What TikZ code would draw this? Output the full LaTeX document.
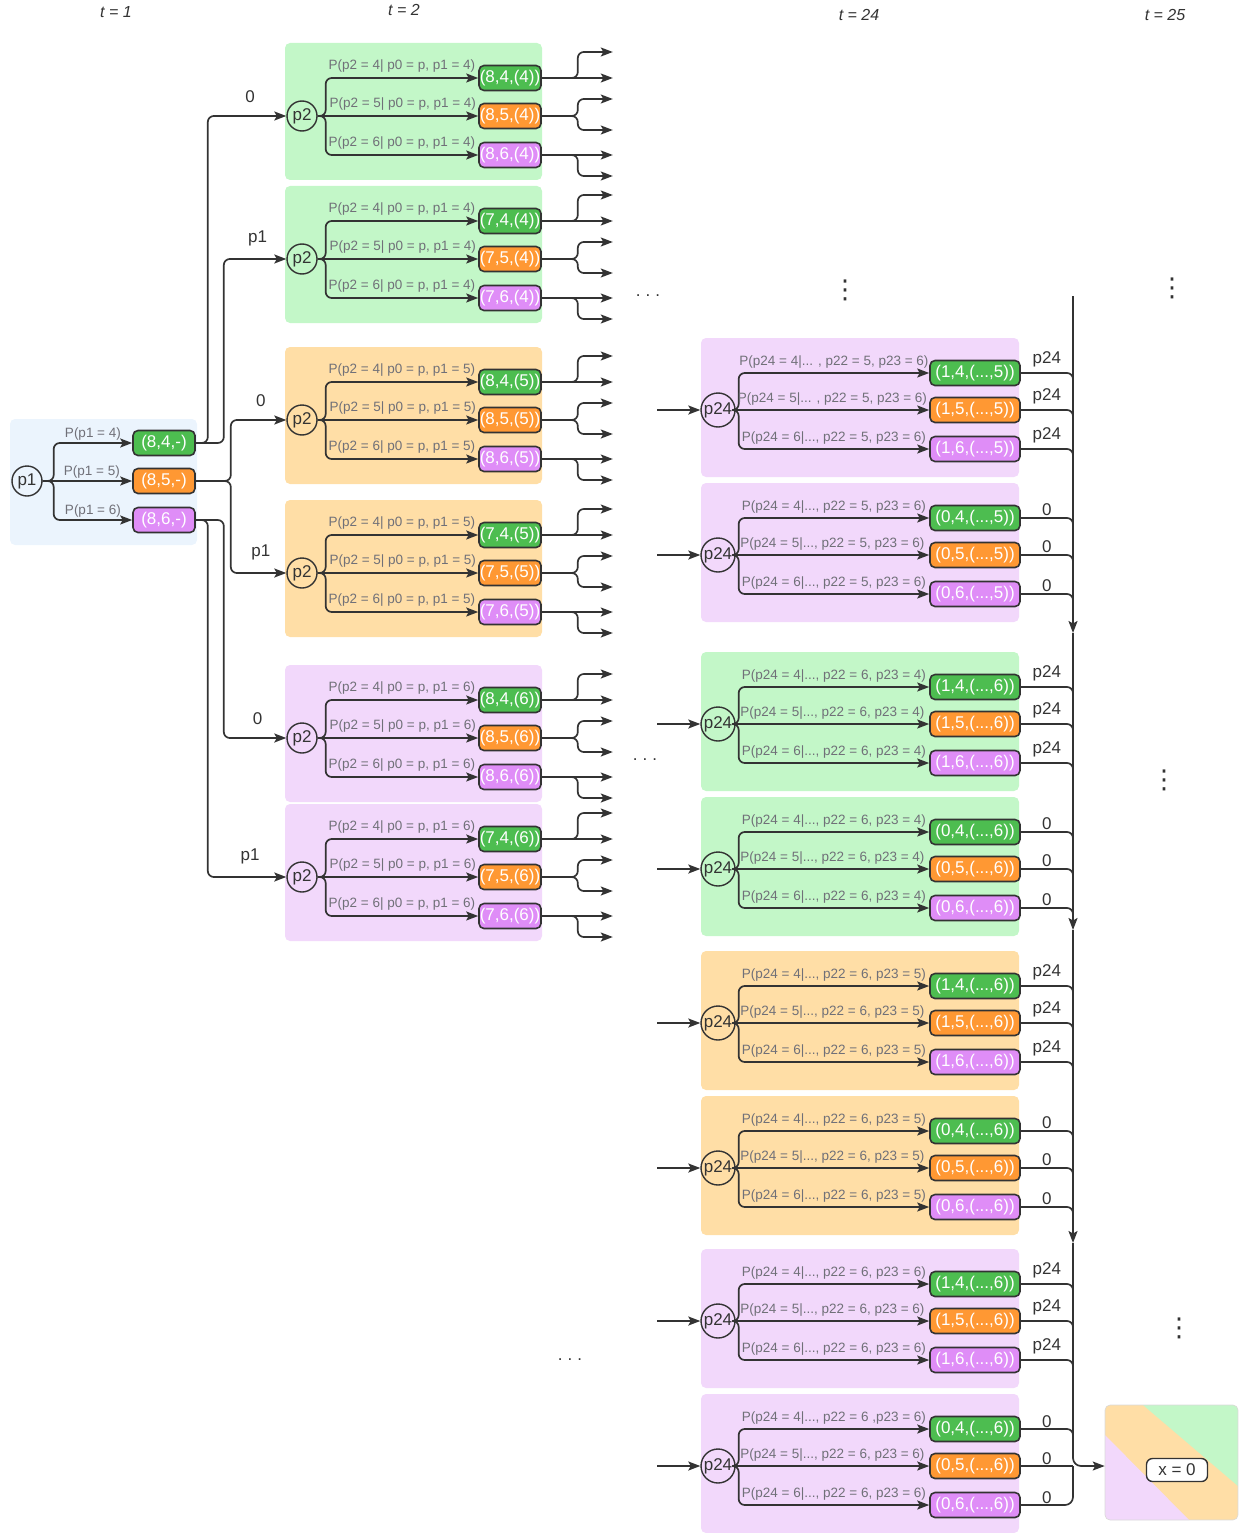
\documentclass[tikz,border=0pt]{standalone}
\usepackage{fontspec}
\setmainfont{Liberation Sans}
\newfontfamily\symfont{DejaVu Sans}
\usetikzlibrary{arrows.meta,calc,positioning}
\definecolor{ink}{HTML}{333333}
\definecolor{grey}{HTML}{707078}
\definecolor{okgreen}{HTML}{4DBD50}
\definecolor{okorange}{HTML}{FF9833}
\definecolor{okpurple}{HTML}{DF8DF7}
\definecolor{bggreen}{HTML}{C3F7C8}
\definecolor{bgorange}{HTML}{FFDEA6}
\definecolor{bgpurple}{HTML}{F2D8FB}
\definecolor{bgblue}{HTML}{EBF4FD}
\newcommand\fs[1]{\fontsize{#1}{#1}\selectfont}
\tikzset{fig/.style={x=1pt,y=-1pt,line join=round},
  area/.style={fill=#1,rounded corners=5pt},
  state/.style={circle,draw=ink,line width=1.4pt,minimum size=30pt,inner sep=0pt,text=ink,font=\fs{17}},
  outbox/.style={fill=#1,draw=ink,line width=1.6pt,rounded corners=5pt,text=white,minimum width=62pt,minimum height=25pt,inner sep=0pt,font=\fs{17}},
  prob/.style={text=grey,inner sep=0pt,font=\fs{13.5}},
  tag/.style={text=ink,inner sep=0pt,font=\fs{17}},
  wire/.style={draw=ink,line width=1.7pt,rounded corners=6pt},
  flow/.style={wire,-{Stealth[length=12pt,width=9pt,inset=2.5pt]}}}

\begin{document}
\begin{tikzpicture}[fig]
\useasboundingbox (0,0) rectangle (1241,1533);
% time labels
\foreach \x/\y/\tt in {116/12/1,404/10/2,859/15/24,1165/15/25}
  \node[tag,font=\fs{16}\itshape] (t\tt) at (\x,\y) {t = \tt};

% t = 1
\fill[area=bgblue] (10,419) rectangle (197,545);
\node[state] (a) at (27,481) {p1};
\foreach \j/\dy/\col in {4/-38/okgreen,5/0/okorange,6/39/okpurple}{
  \node[outbox=\col] (a\j) at (164,481+\dy) {(8,\j,-)};
  \ifnum\j=5 \draw[flow] (a.east) -- node[prob,pos=0.55,above=2pt]{P(p1 = \j)} (a\j.west);
  \else \draw[flow] (a.east) -- ++(11,0) |- node[prob,pos=0.75,above=2pt]{P(p1 = \j)} (a\j.west);\fi}

% t = 2
\foreach \i/\cy/\bg/\n/\v in {1/116/bggreen/8/4,2/259/bggreen/7/4,3/420/bgorange/8/5,4/573/bgorange/7/5,5/738/bgpurple/8/6,6/877/bgpurple/7/6}{
  \fill[area=\bg] (285,\cy-73) rectangle (542,\cy+64);
  \node[state] (b\i) at (302,\cy) {p2};
  \foreach \j/\dy/\col/\ua/\ub in {4/-38/okgreen/-26/0,5/0/okorange/-17/14,6/39/okpurple/0/21}{
    \node[outbox=\col] (b\i-\j) at (510,\cy+\dy) {(\n,\j,(\v))};
    \def\lbl{P(p2 = \j| p0 = p, p1 = \v)}
    \ifnum\j=5 \draw[flow] (b\i.east) -- node[prob,pos=0.53,above=5pt]{\lbl} (b\i-\j.west);
    \else \draw[flow] (b\i.east) -- ++(8,0) |- node[prob,pos=0.75,above=5pt]{\lbl} (b\i-\j.west);\fi
    \foreach \o/\q in {u/\ua,d/\ub}{
      \coordinate (f\i-\j-\o) at ($(b\i-\j.east)+(71,\q)$);
      \ifnum\q=0 \draw[flow] (b\i-\j.east) -- (f\i-\j-\o);
      \else \draw[flow] (b\i-\j.east) -- ++(36,0) |- (f\i-\j-\o);\fi}}}

% t = 1 -> t = 2
\foreach \s/\dx/\k/\lab in {4/12/1/0,4/28/2/p1,5/35/3/0,5/35/4/p1,6/28/5/0,6/12/6/p1}
  \draw[flow] (a\s.east) -- ++(\dx,0) |- node[tag,pos=0.77,above=12pt]{\lab} (b\k.west);

% t = 24
\coordinate (trunk) at (1073,296);
\foreach \i/\cy/\bg/\w/\pa/\pb/\z/\tg/\off in {1/410/bgpurple/1/5/6/5/p24/5pt,2/555/bgpurple/0/5/6/5/0/1pt,3/724/bggreen/1/6/4/6/p24/5pt,4/869/bggreen/0/6/4/6/0/1pt,5/1023/bgorange/1/6/5/6/p24/5pt,6/1168/bgorange/0/6/5/6/0/1pt,7/1321/bgpurple/1/6/6/6/p24/5pt,8/1466/bgpurple/0/6/6/6/0/1pt}{
  \fill[area=\bg] (701,\cy-72) rectangle (1019,\cy+67);
  \node[state,minimum size=34pt] (c\i) at (718,\cy) {p24};
  \coordinate (e\i) at (657,\cy);
  \draw[flow] (e\i) -- (c\i.west);
  \foreach \j/\dy/\col in {4/-37/okgreen,5/0/okorange,6/39/okpurple}{
    \node[outbox=\col,minimum width=90pt] (c\i-\j) at (975,\cy+\dy) {(\w,\j,(...,\z))};
    \def\lbl{P(p24 = \j|...\ifnum\i\j<16 \space\fi, p22 = \pa\ifnum\i\j=84 \space,p23\else, p23\fi{} = \pb)}
    \ifnum\j=5 \draw[flow] (c\i.east) -- node[prob,pos=0.5,above=4pt]{\lbl} (c\i-\j.west);
    \else \draw[flow] (c\i.east) -- ++(3,0) |- node[prob,pos=0.75,above=4pt]{\lbl} (c\i-\j.west);\fi
    \ifnum\i\j<85
      \draw[wire] (c\i-\j.east) -| node[tag,pos=0.25,above=\off]{\tg} ($(c\i-\j.east -| trunk)+(0,16)$);
    \fi}}
\coordinate (k1) at (1073,633);
\coordinate (k2) at (1073,930);
\coordinate (k3) at (1073,1243);
\draw[flow] (trunk) -- (k1);
\draw[flow] (k1) -- (k2);
\draw[flow] (k2) -- (k3);

% t = 25
\begin{scope}
  \clip[rounded corners=5pt] (1105,1405) rectangle (1238,1520);
  \fill[bgorange] (1105,1405) rectangle (1238,1520);
  \fill[bggreen] (1143,1405) -- (1238,1405) -- (1238,1486) -- cycle;
  \fill[bgpurple] (1105,1435) -- (1105,1520) -- (1189,1520) -- cycle;
\end{scope}
\node[draw=black!15,line width=0.6pt,rounded corners=5pt,minimum width=133pt,minimum height=115pt,inner sep=0pt] (xbox) at (1171.5,1462.5) {};
\node[tag,draw=ink,line width=1.4pt,fill=white,rounded corners=6pt,minimum width=61pt,minimum height=23pt] (xzero) at (1177,1470) {x = 0};
\draw[flow,rounded corners=8pt] (k3) |- (xbox.west |- c8-5.east);
\draw[wire] (c8-5.east) -- node[tag,pos=0.5,above=1pt]{0} (c8-5.east -| trunk);
\draw[wire,rounded corners=8pt] (c8-6.east) -| node[tag,pos=0.25,above=1pt]{0} (c8-5.east -| trunk);

% dots
\foreach \x/\y/\m in {648/296/1,645/760/2,570/1360/3}
  \node[tag] (h\m) at (\x,\y) {.\hspace{5pt}.\hspace{5pt}.};
\foreach \x/\y/\m in {845/290/1,1172/288/2,1164/780/3,1179/1328/4}
  \node[tag,font=\symfont\fs{26}] (v\m) at (\x,\y) {⋮};
\end{tikzpicture}
\end{document}
